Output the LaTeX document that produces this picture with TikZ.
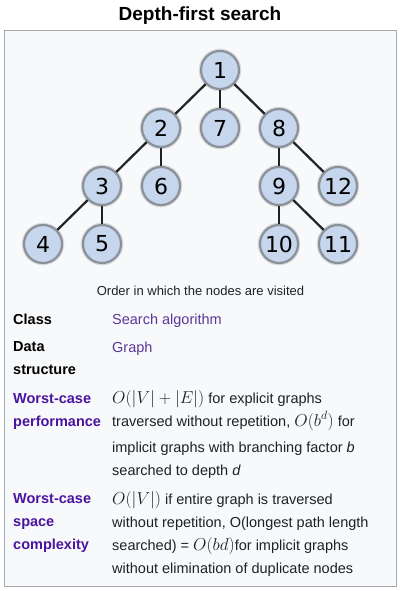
\documentclass[tikz,border=0pt]{standalone}
\usepackage[no-math]{fontspec}
\setmainfont{Liberation Sans}
\newfontfamily\numfont{DejaVu Sans}
\usetikzlibrary{positioning}
\definecolor{boxfill}{HTML}{F8F9FA}
\definecolor{boxline}{HTML}{A2A9B1}
\definecolor{nodefill}{HTML}{C6D6EC}
\definecolor{nodeline}{HTML}{8A919B}
\definecolor{linkpurple}{HTML}{5A3696}
\definecolor{headpurple}{HTML}{4B14A0}
\definecolor{bodytext}{HTML}{202122}
\newcommand{\mth}[1]{{\fontsize{17.28}{23}\selectfont$#1$}}

\begin{document}
\begin{tikzpicture}[
    x=1pt, y=-1pt,
    node distance=58pt and 59pt, on grid,
    vert/.style={
        circle, draw=nodeline, fill=nodefill, line width=2.2pt,
        preaction={draw=black, draw opacity=0.12, line width=4.6pt},
        minimum size=38pt, inner sep=0pt,
        font=\numfont\fontsize{22}{22}\selectfont
    },
    tree/.style={draw=bodytext, line width=2.2pt},
    % multi-line nodes sit on the baseline of their last line
    lbl/.style={
        anchor=base west, align=left, inner sep=0pt,
        font=\bfseries\fontsize{14.5}{23}\selectfont
    },
    val/.style={
        anchor=base west, align=left, inner sep=0pt, text=bodytext,
        font=\fontsize{14.5}{23}\selectfont
    }
    ]
    \useasboundingbox (0,0) rectangle (401,591);
    \draw[draw=boxline, fill=boxfill] (4.5,30.5) rectangle (396.5,586.5);
    \node[anchor=base, text=black, font=\bfseries\fontsize{19}{19}\selectfont] (title) at (200,21) {Depth-first search};

    \node[vert] (v1) at (220,70) {1};
    \node[vert] (v2) [below left=of v1] {2};
    \node[vert] (v7) [below=of v1] {7};
    \node[vert] (v8) [below right=of v1] {8};
    \node[vert] (v3) [below left=of v2] {3};
    \node[vert] (v6) [below=of v2] {6};
    \node[vert] (v9) [below=of v8] {9};
    \node[vert] (v12) [below right=of v8] {12};
    \node[vert] (v4) [below left=of v3] {4};
    \node[vert] (v5) [below=of v3] {5};
    \node[vert] (v10) [below=of v9] {10};
    \node[vert] (v11) [below right=of v9] {11};

    \path[tree]
    (v1) edge (v2)
    (v1) edge (v7)
    (v1) edge (v8)
    (v2) edge (v3)
    (v2) edge (v6)
    (v3) edge (v4)
    (v3) edge (v5)
    (v8) edge (v9)
    (v8) edge (v12)
    (v9) edge (v10)
    (v9) edge (v11);

    \node[anchor=base, text=bodytext, font=\fontsize{13}{13}\selectfont] (caption) at (200.5,295) {Order in which the nodes are visited};

    \node[lbl] (classlbl) at (13,324) {Class};
    \node[val, text=linkpurple] (classval) at (112,324) {Search algorithm};
    \node[lbl] (datalbl) at (13,374) {Data\\structure};
    \node[val, text=linkpurple] (dataval) at (112,352) {Graph};
    \node[lbl, text=headpurple] (timelbl) at (13,426) {Worst-case\\performance};
    \node[val] (timeval) at (112,475) {\mth{O(|V|+|E|)} for explicit graphs\\
        traversed without repetition, \mth{O(b^d)} for\\[3pt]
        implicit graphs with branching factor \textit{b}\\
        searched to depth \textit{d}};
    \node[lbl, text=headpurple] (spacelbl) at (13,549) {Worst-case\\space\\complexity};
    \node[val] (spaceval) at (112,573) {\mth{O(|V|)} if entire graph is traversed\\
        without repetition, O(longest path length\\
        searched) = \mth{O(bd)}for implicit graphs\\
        without elimination of duplicate nodes};
\end{tikzpicture}
\end{document}
